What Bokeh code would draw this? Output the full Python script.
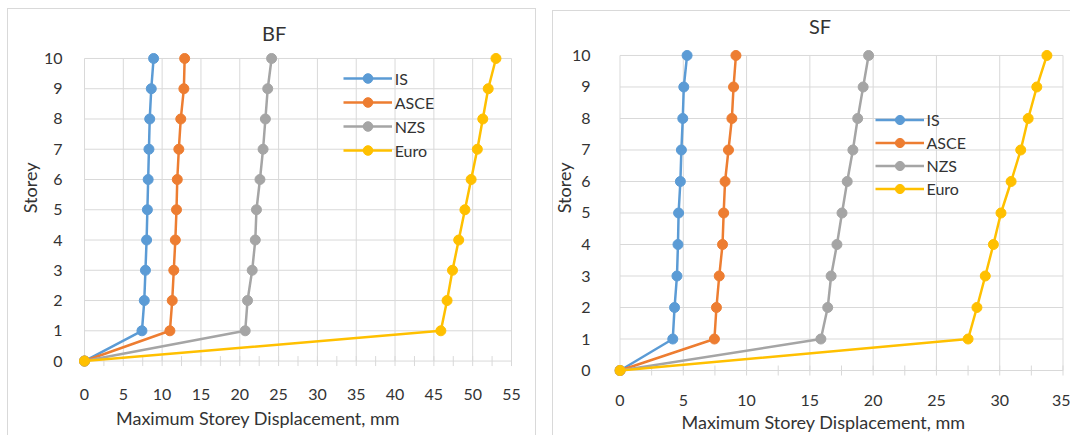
import math
from bokeh.plotting import figure
from bokeh.models import Range1d, FixedTicker, Legend, LegendItem, Title
from bokeh.layouts import row
from bokeh.embed import file_html
from bokeh.resources import INLINE

# ---------------- data ----------------
storey = [0, 1, 2, 3, 4, 5, 6, 7, 8, 9, 10]
series_names = ["IS", "ASCE", "NZS", "Euro"]

bf_is = [0, 7.4, 7.7, 7.85, 8.0, 8.1, 8.2, 8.3, 8.4, 8.6, 8.9]
bf_asce = [0, 11.0, 11.3, 11.5, 11.7, 11.85, 11.95, 12.15, 12.4, 12.8, 12.9]
bf_nzs = [0, 20.7, 21.0, 21.6, 22.0, 22.15, 22.6, 23.0, 23.3, 23.6, 24.1]
bf_euro = [0, 45.9, 46.7, 47.4, 48.2, 49.0, 49.8, 50.6, 51.3, 52.0, 53.0]

sf_is = [0, 4.17, 4.31, 4.5, 4.58, 4.63, 4.77, 4.85, 4.96, 5.04, 5.3]
sf_asce = [0, 7.46, 7.62, 7.84, 8.1, 8.19, 8.3, 8.57, 8.84, 8.97, 9.16]
sf_nzs = [0, 15.87, 16.41, 16.68, 17.14, 17.54, 17.95, 18.4, 18.78, 19.21, 19.64]
sf_euro = [0, 27.5, 28.2, 28.86, 29.5, 30.1, 30.9, 31.66, 32.25, 32.93, 33.73]

bf_xticks = [0, 5, 10, 15, 20, 25, 30, 35, 40, 45, 50, 55]
sf_xticks = [0, 5, 10, 15, 20, 25, 30, 35]
yticks = [0, 1, 2, 3, 4, 5, 6, 7, 8, 9, 10]

x_title = "Maximum Storey Displacement,  mm"
y_title = "Storey"

colors = ["#5B9BD5", "#ED7D31", "#A5A5A5", "#FFC000"]
GRID = "#d9d9d9"
TXT = "#333333"
FONT = "Lato"

# shared borders (px) so that frame alignment inside the row changes nothing
L, R, T, B = 62, 3, 47, 59
H = 435


def panel_lines(lines):
    """CSS background lines (chart-area border) drawn behind a transparent canvas."""
    imgs = ", ".join(["linear-gradient(#d9d9d9, #d9d9d9)"] * len(lines))
    sizes = ", ".join(f"{w}px {h}px" for (_, _, w, h) in lines)
    poss = ", ".join(f"{x}px {y}px" for (x, y, _, _) in lines)
    return {"background-image": imgs, "background-size": sizes,
            "background-position": poss, "background-repeat": "no-repeat"}


def make_panel(title, series, xticks, canvas_x, width, box, legend_pos, legend_row,
               title_off, xt_off, yt_off, ystand, xstand, tstand, xtstand, ytstand, border):
    bl, br, bt, bb = box
    fl, fr = canvas_x + L, canvas_x + width - R
    ft, fb = T, H - B
    xmax = xticks[-1]
    ymax = yticks[-1]
    kx = (br - bl) / xmax
    ky = (bb - bt) / ymax
    p = figure(width=width, height=H, title=None,
               x_range=Range1d(-(bl - fl) / kx, xmax + (fr - br) / kx),
               y_range=Range1d(-(fb - bb) / ky, ymax + (bt - ft) / ky),
               output_backend="svg", toolbar_location=None,
               min_border_left=L, min_border_right=R,
               min_border_top=T, min_border_bottom=B,
               outline_line_color=None, background_fill_color="white",
               border_fill_alpha=0, styles=border)
    p.grid.visible = False

    for ax, ticks, stand in ((p.xaxis[0], xticks, xstand), (p.yaxis[0], yticks, ystand)):
        ax.ticker = FixedTicker(ticks=ticks)
        ax.axis_line_color = None
        ax.major_tick_line_color = None
        ax.minor_tick_line_color = None
        ax.major_tick_out = 0
        ax.major_tick_in = 0
        ax.minor_tick_out = 0
        ax.major_label_standoff = stand
        ax.major_label_text_font = FONT
        ax.major_label_text_font_size = "16px"
        ax.major_label_text_color = TXT

    common = dict(align="left", text_font=FONT, text_font_style="normal", text_color=TXT)
    p.add_layout(Title(text=title, offset=title_off - fl, standoff=tstand,
                       text_font_size="20px", **common), "above")
    p.add_layout(Title(text=x_title, offset=xt_off - fl, standoff=xtstand,
                       text_font_size="18px", **common), "below")
    p.add_layout(Title(text=y_title, offset=fb - yt_off, standoff=ytstand,
                       text_font_size="18px", **common), "left")

    # plot-area grid
    n = len(xticks)
    p.segment(x0=xticks, y0=[0] * n, x1=xticks, y1=[ymax] * n, line_color=GRID, line_width=1)
    m = len(yticks)
    p.segment(x0=[0] * m, y0=yticks, x1=[xmax] * m, y1=yticks, line_color=GRID, line_width=1)
    minor = [t / 2 for t in range(0, 2 * xmax + 1, 5)]
    p.scatter(x=minor, y=[0] * len(minor), marker="dash", angle=math.pi / 2, size=10,
              line_color=GRID, line_width=1)

    items = []
    for name, vals, c in zip(series_names, series, colors):
        rl = p.line(x=vals, y=storey, line_width=2.5, line_color=c)
        rs = p.scatter(x=vals, y=storey, size=10, fill_color=c, line_color=c)
        items.append(LegendItem(label=name, renderers=[rl, rs]))

    lx, ly = legend_pos
    leg = Legend(items=items, location=(lx - fl, fb - ly), glyph_width=49,
                 glyph_height=legend_row, label_height=legend_row, spacing=0,
                 padding=0, margin=0, label_standoff=3, border_line_color=None,
                 background_fill_alpha=0, label_text_font=FONT,
                 label_text_font_size="16px", label_text_color=TXT)
    p.add_layout(leg)
    return p


# title_off / xt_off: page x of the text's left end; yt_off: page y of the text's lower end
p1 = make_panel("BF", [bf_is, bf_asce, bf_nzs, bf_euro], bf_xticks,
                canvas_x=0, width=536, box=(84, 511, 57, 360.5),
                legend_pos=(342.7, 162), legend_row=24,
                title_off=261.5, xt_off=115.5, yt_off=212.75,
                ystand=0, xstand=12, tstand=8, xtstand=5, ytstand=0,
                border=panel_lines([(7, 8, 529, 1), (7, 8, 1, 427), (535, 8, 1, 427)]))
p2 = make_panel("SF", [sf_is, sf_asce, sf_nzs, sf_euro], sf_xticks,
                canvas_x=552, width=518, box=(619.5, 1062.5, 54, 370),
                legend_pos=(874.5, 200.2), legend_row=23,
                title_off=808.5, xt_off=681, yt_off=212.75,
                ystand=24, xstand=18, tstand=22, xtstand=0, ytstand=-12,
                border=panel_lines([(0, 10, 518, 1), (0, 10, 1, 425)]))

layout = row(p1, p2, spacing=16)
open("out.html", "w").write(file_html(layout, INLINE))
